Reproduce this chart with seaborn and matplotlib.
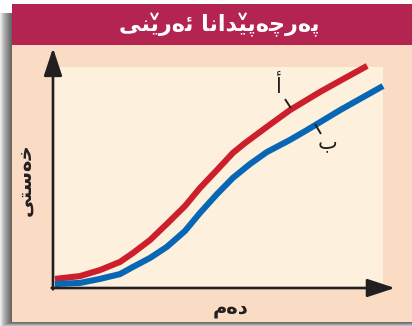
import matplotlib
matplotlib.use("Agg")
import matplotlib.pyplot as plt
from matplotlib.patches import Rectangle
from matplotlib.lines import Line2D
import seaborn as sns
import pandas as pd

sns.set_theme(style="white")
plt.rcParams['font.family'] = ['DejaVu Sans']

W, H = 412, 326

# Curve A (red): time vs. concentration
time_a = [0.06, 0.82, 1.42, 2.03, 2.42, 2.94, 3.45, 4.00, 4.45, 4.97, 5.45, 5.82, 6.48, 7.18, 8.09, 8.85, 9.52]
conc_a = [0.41, 0.54, 0.81, 1.18, 1.58, 2.17, 2.90, 3.71, 4.52, 5.34, 6.11, 6.56, 7.29, 8.05, 8.87, 9.50, 10.05]

# Curve B (blue)
time_b = [0.06, 0.82, 1.42, 2.03, 2.42, 2.94, 3.45, 4.00, 4.45, 4.97, 5.45, 5.97, 6.48, 7.18, 7.70, 8.70, 10.0]
conc_b = [0.18, 0.23, 0.41, 0.63, 0.95, 1.36, 1.86, 2.58, 3.39, 4.25, 4.98, 5.61, 6.15, 6.70, 7.15, 8.05, 9.14]

series_labels = ["أ", "ب"]
title_text = "پەرچەپێدانا ئەرێنی"
x_label = "دەم"
y_label = "خەستی"

RED = "#CC1F2B"
BLUE = "#0767B4"
INK = "#231F20"
CRIMSON = "#B32451"
PEACH = "#FADBC3"
CREAM = "#FDF0DC"

# Contextual forms (isolated, final, initial, medial) for the letters used
FORMS = {
    '\u0627': ('\uFE8D', '\uFE8E', None, None),
    '\u0623': ('\uFE83', '\uFE84', None, None),
    '\u062F': ('\uFEA9', '\uFEAA', None, None),
    '\u0631': ('\uFEAD', '\uFEAE', None, None),
    '\u06D5': ('\u06D5', '\u06D5', None, None),
    '\u0628': ('\uFE8F', '\uFE90', '\uFE91', '\uFE92'),
    '\u062A': ('\uFE95', '\uFE96', '\uFE97', '\uFE98'),
    '\u062E': ('\uFEA5', '\uFEA6', '\uFEA7', '\uFEA8'),
    '\u0633': ('\uFEB1', '\uFEB2', '\uFEB3', '\uFEB4'),
    '\u0645': ('\uFEE1', '\uFEE2', '\uFEE3', '\uFEE4'),
    '\u0646': ('\uFEE5', '\uFEE6', '\uFEE7', '\uFEE8'),
    '\u0626': ('\uFE89', '\uFE8A', '\uFE8B', '\uFE8C'),
    '\u06CC': ('\uFBFC', '\uFBFD', '\uFBFE', '\uFBFF'),
    '\u064A': ('\uFBFC', '\uFBFD', '\uFBFE', '\uFBFF'),
    '\u067E': ('\uFB56', '\uFB57', '\uFB58', '\uFB59'),
    '\u0686': ('\uFB7A', '\uFB7B', '\uFB7C', '\uFB7D'),
    '\u06CE': ('\u06CE', '\u06CE', '\uFBFE', '\uFBFF'),
}
# letters drawn as a dotted-yeh form plus a small v above
V_ABOVE = {'\u06CE'}


def shape(text):
    """Join letters into contextual forms laid out right-to-left.

    Returns the visual string and the indices of glyphs that carry a small v above.
    """
    words = []
    for word in text.split(' '):
        glyphs = []
        n = len(word)
        for i, ch in enumerate(word):
            f = FORMS.get(ch)
            if f is None:
                glyphs.append((ch, False))
                continue
            prev_f = FORMS.get(word[i - 1]) if i > 0 else None
            next_f = FORMS.get(word[i + 1]) if i < n - 1 else None
            joins_prev = prev_f is not None and prev_f[2] is not None
            joins_next = next_f is not None and f[2] is not None
            if joins_prev and joins_next:
                g = f[3]
            elif joins_prev:
                g = f[1]
            elif joins_next:
                g = f[2]
            else:
                g = f[0]
            glyphs.append((g, ch in V_ABOVE and (joins_next or joins_prev)))
        words.append(list(reversed(glyphs)))
    visual, marks = '', []
    for wi, glyphs in enumerate(reversed(words)):
        if wi:
            visual += ' '
        for g, has_v in glyphs:
            if has_v:
                marks.append(len(visual))
            visual += g
    return visual, marks


def fx(px):
    return px / W


def fy(py):
    return 1 - py / H


fig = plt.figure(figsize=(W / 100, H / 100), dpi=100)
fig.patch.set_facecolor('white')

# soft drop shadow on the left and bottom of the card
for k in range(1, 13):
    fig.patches.append(Rectangle((fx(12 - k), fy(322 + k * 0.4)), (400 + k) / W, (309 + k * 0.4) / H,
                                 transform=fig.transFigure, facecolor='black', alpha=0.07,
                                 edgecolor='none', zorder=0))

# card and title band
fig.patches.append(Rectangle((fx(12), fy(322)), 400 / W, 318 / H, transform=fig.transFigure,
                             facecolor=PEACH, edgecolor='none', zorder=1))
fig.patches.append(Rectangle((fx(12), fy(45)), 400 / W, 41 / H, transform=fig.transFigure,
                             facecolor=CRIMSON, edgecolor='none', zorder=2))
title_visual, title_marks = shape(title_text)
title = fig.text(fx(219), fy(25), title_visual, color='white', fontsize=16, fontweight='bold',
                 ha='center', va='center', zorder=3)

ax = fig.add_axes([fx(53), fy(288), 330 / W, 221 / H])
ax.set_zorder(5)
ax.set_facecolor(CREAM)
ax.set_xlim(0, 10)
ax.set_ylim(0, 10)
for s in ax.spines.values():
    s.set_visible(False)
ax.set_xticks([])
ax.set_yticks([])

curves = pd.DataFrame({'t': time_a + time_b, 'c': conc_a + conc_b,
                       'series': [series_labels[0]] * len(time_a) + [series_labels[1]] * len(time_b)})
sns.lineplot(data=curves, x='t', y='c', hue='series', palette=[RED, BLUE], sort=False,
             estimator=None, linewidth=4.4, legend=False, ax=ax)
for line in ax.lines:
    line.set_solid_capstyle('butt')
    line.set_clip_on(False)
ax.set_xlabel('')
ax.set_ylabel('')

# axis arrows
arrow = dict(arrowstyle='-|>,head_length=0.85,head_width=0.28', mutation_scale=20, lw=1.9,
             color=INK, shrinkA=0, shrinkB=0)
ax.annotate('', xy=(1.036, 0), xytext=(-0.004, 0), xycoords='axes fraction',
            textcoords='axes fraction', arrowprops=arrow, annotation_clip=False)
ax.annotate('', xy=(0, 1.086), xytext=(0, -0.006), xycoords='axes fraction',
            textcoords='axes fraction', arrowprops=arrow, annotation_clip=False)

# series labels with leader ticks
ax.text(6.85, 9.12, shape(series_labels[0])[0], fontsize=15, color=INK, ha='center', va='center')
ax.plot([7.03, 7.21], [8.55, 8.14], color=INK, lw=1.4, solid_capstyle='butt')
ax.text(8.33, 6.62, shape(series_labels[1])[0], fontsize=15, color=INK, ha='center', va='center')
ax.plot([7.94, 8.12], [7.42, 6.97], color=INK, lw=1.4, solid_capstyle='butt')

fig.text(fx(231), fy(309), shape(x_label)[0], fontsize=14, fontweight='bold', color=INK,
         ha='center', va='center', zorder=3)
fig.text(fx(25), fy(180), shape(y_label)[0], fontsize=14, fontweight='bold', color=INK,
         ha='center', va='center', rotation=90, zorder=3)

# small v strokes above the yeh glyphs of the title
fig.canvas.draw()
renderer = fig.canvas.get_renderer()
prop = title.get_fontproperties()
tb = title.get_window_extent(renderer)
for idx in title_marks:
    w_pre = renderer.get_text_width_height_descent(title_visual[:idx], prop, ismath=False)[0] if idx else 0
    w_all = renderer.get_text_width_height_descent(title_visual[:idx + 1], prop, ismath=False)[0]
    xc = tb.x0 + (w_pre + w_all) / 2
    fig.lines.append(Line2D([fx(xc - 3.2), fx(xc), fx(xc + 3.2)], [fy(13.5), fy(19.5), fy(13.5)],
                            transform=fig.transFigure, color='white', lw=1.5,
                            solid_joinstyle='miter', zorder=3))

fig.savefig('out.png', dpi=100)
